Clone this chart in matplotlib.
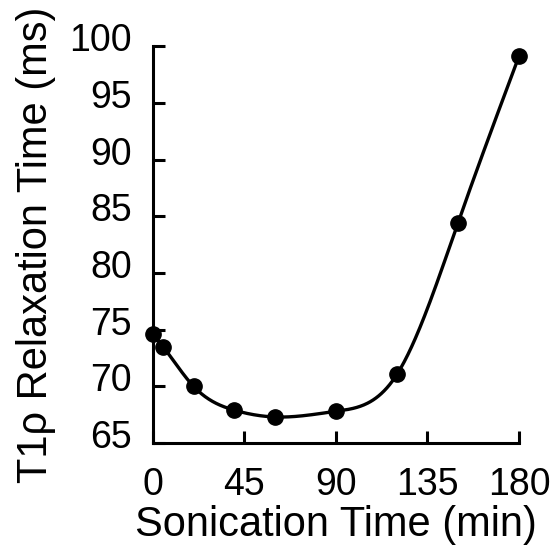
import numpy as np
import matplotlib
matplotlib.use("Agg")
import matplotlib.pyplot as plt
from matplotlib.transforms import ScaledTranslation

plt.rcParams['font.family'] = ['Liberation Sans', 'DejaVu Sans']

# sonication time (min) and T1rho relaxation time (ms)
sonication_min = [0, 5, 20, 40, 60, 90, 120, 150, 180]
t1rho_ms = [74.6, 73.5, 70.0, 67.9, 67.3, 67.8, 71.05, 84.4, 99.1]
x_ticks = [0, 45, 90, 135, 180]
y_ticks = [65, 70, 75, 80, 85, 90, 95, 100]


# natural cubic spline through the points
def natural_spline(x, y, xs):
    x = np.asarray(x, float)
    y = np.asarray(y, float)
    n = len(x)
    h = np.diff(x)
    A = np.zeros((n, n))
    b = np.zeros(n)
    A[0, 0] = 1
    A[-1, -1] = 1
    for i in range(1, n - 1):
        A[i, i - 1] = h[i - 1]
        A[i, i] = 2 * (h[i - 1] + h[i])
        A[i, i + 1] = h[i]
        b[i] = 3 * ((y[i + 1] - y[i]) / h[i] - (y[i] - y[i - 1]) / h[i - 1])
    c = np.linalg.solve(A, b)
    idx = np.clip(np.searchsorted(x, xs) - 1, 0, n - 2)
    dx = xs - x[idx]
    hi = h[idx]
    bi = (y[idx + 1] - y[idx]) / hi - hi * (2 * c[idx] + c[idx + 1]) / 3
    di = (c[idx + 1] - c[idx]) / (3 * hi)
    return y[idx] + bi * dx + c[idx] * dx ** 2 + di * dx ** 3


xs = np.linspace(sonication_min[0], sonication_min[-1], 400)
ys = natural_spline(sonication_min, t1rho_ms, xs)

fig = plt.figure(figsize=(5.58, 5.49), dpi=100)
ax = fig.add_axes([0.274, 0.193, 0.656, 0.723])

ax.plot(xs, ys, color='black', lw=2.4, clip_on=False)
ax.plot(sonication_min, t1rho_ms, 'o', color='black', ms=11, clip_on=False, zorder=3)

ax.set_xlim(0, 180)
ax.set_ylim(65, 100)
ax.set_xticks(x_ticks)
ax.set_yticks(y_ticks)
ax.spines['top'].set_visible(False)
ax.spines['right'].set_visible(False)
ax.spines['left'].set_linewidth(2.2)
ax.spines['bottom'].set_linewidth(2.2)
ax.tick_params(axis='both', direction='in', length=8.5, width=2.2, labelsize=27)
ax.tick_params(axis='y', pad=15)
ax.tick_params(axis='x', pad=17)

# y tick labels sit a little above their ticks in the original
shift = ScaledTranslation(0, 0.09, fig.dpi_scale_trans)
for lab in ax.get_yticklabels():
    lab.set_transform(lab.get_transform() + shift)

ax.set_xlabel('Sonication Time (min)', fontsize=30, labelpad=2)
ax.set_ylabel('T1ρ Relaxation Time (ms)', fontsize=30, labelpad=10)

fig.savefig('out.png', dpi=100)
